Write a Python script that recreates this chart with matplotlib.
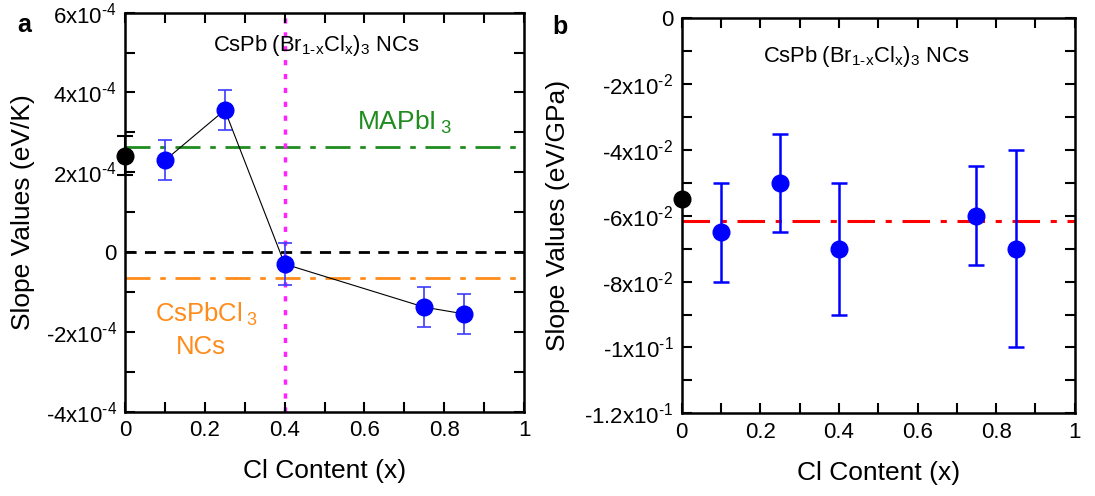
"""
Slope values vs Cl content for CsPb(Br1-xClx)3 NCs: temperature (a) and pressure (b).
"""

import numpy as np
import matplotlib.pyplot as plt
from matplotlib.ticker import MultipleLocator, FixedLocator

plt.rcParams['font.family'] = ['Liberation Sans', 'DejaVu Sans']
plt.rcParams['mathtext.fontset'] = 'custom'
plt.rcParams['mathtext.rm'] = 'Liberation Sans'
plt.rcParams['mathtext.it'] = 'Liberation Sans'

# panel a: temperature slopes (eV/K)
x_a = [0.1, 0.25, 0.4, 0.75, 0.85]
y_a = [2.3e-4, 3.56e-4, -0.3e-4, -1.38e-4, -1.55e-4]
err_a = [0.5e-4, 0.5e-4, 0.52e-4, 0.5e-4, 0.5e-4]
x0_a, y0_a, err0_a = 0.0, 2.42e-4, 0.48e-4
mapbi3_a = 2.64e-4
cspbcl3_a = -0.65e-4
x_cross = 0.4

# panel b: pressure slopes (eV/GPa)
x_b = [0.1, 0.25, 0.4, 0.75, 0.85]
y_b = [-0.065, -0.05, -0.07, -0.06, -0.07]
err_lo_b = [0.015, 0.015, 0.02, 0.015, 0.03]
err_hi_b = [0.015, 0.015, 0.02, 0.015, 0.03]
x0_b, y0_b = 0.0, -0.055
ref_b = -0.0615

yticks_a = [6e-4, 4e-4, 2e-4, 0, -2e-4, -4e-4]
yticklabels_a = [r'6x10$^{\text{-}4}$', r'4x10$^{\text{-}4}$', r'2x10$^{\text{-}4}$', '0',
                 r'-2x10$^{\text{-}4}$', r'-4x10$^{\text{-}4}$']
yticks_b = [0, -0.02, -0.04, -0.06, -0.08, -0.1, -0.12]
yticklabels_b = ['0', r'-2x10$^{\text{-}2}$', r'-4x10$^{\text{-}2}$', r'-6x10$^{\text{-}2}$',
                 r'-8x10$^{\text{-}2}$', r'-1x10$^{\text{-}1}$', r'-1.2x10$^{\text{-}1}$']
xticks = [0, 0.2, 0.4, 0.6, 0.8, 1]
xticklabels = ['0', '0.2', '0.4', '0.6', '0.8', '1']

title = r'CsPb$\;$(Br$_{1\text{-}x}$Cl$_x$)$_3$ NCs'


def style_axes(ax, minor_y):
    ax.set_xlim(0, 1)
    ax.xaxis.set_major_locator(FixedLocator(xticks))
    ax.set_xticklabels(xticklabels)
    ax.xaxis.set_minor_locator(MultipleLocator(0.1))
    ax.yaxis.set_minor_locator(MultipleLocator(minor_y))
    ax.tick_params(which='both', direction='in', top=True, right=True,
                   width=1.5, labelsize=16, pad=6)
    ax.tick_params(which='major', length=7)
    ax.tick_params(which='minor', length=7)
    for s in ax.spines.values():
        s.set_linewidth(1.8)
    ax.set_xlabel('Cl Content (x)', fontsize=19, labelpad=13)


fig = plt.figure(figsize=(10.95, 4.96), dpi=100)
ax1 = fig.add_axes([0.1142, 0.170, 0.3644, 0.8044])
ax2 = fig.add_axes([0.6226, 0.1667, 0.3589, 0.7964])

# ---- panel a ----
ax1.axhline(0, color='black', lw=2, dashes=(4, 3), zorder=1)
ax1.axhline(mapbi3_a, color='#1e8c1e', lw=2, dashes=(9, 3.5, 2, 3.5), zorder=1)
ax1.axhline(cspbcl3_a, color='#ff8c1a', lw=2, dashes=(9, 3.5, 2, 3.5), zorder=1)
ax1.axvline(x_cross, color='#ff22ff', lw=2.5, dashes=(1.5, 2.5), zorder=1)
ax1.plot(x_a, y_a, color='black', lw=0.8, zorder=2)
ax1.errorbar(x_a, y_a, yerr=err_a, fmt='o', color='#0000ff', ecolor='#3b3bff',
             ms=12, elinewidth=1.2, capsize=5, capthick=1.2, zorder=3)
ax1.errorbar([x0_a], [y0_a], yerr=[err0_a], fmt='o', color='black', ms=12,
             elinewidth=1.5, capsize=6, capthick=1.5, clip_on=False, zorder=4)
ax1.set_ylim(-4e-4, 6e-4)
ax1.yaxis.set_major_locator(FixedLocator(yticks_a))
ax1.set_yticklabels(yticklabels_a)
style_axes(ax1, 1e-4)
ax1.set_ylabel('Slope Values (eV/K)', fontsize=19)
ax1.yaxis.set_label_coords(-0.226, 0.5)
ax1.text(0.48, 0.917, title, transform=ax1.transAxes, ha='center', va='center',
         fontsize=15.8)
ax1.text(0.70, 0.724, r'MAPbI$_{\;3}$', transform=ax1.transAxes, ha='center',
         va='center', fontsize=19, color='#1e8c1e')
ax1.text(0.205, 0.245, r'CsPbCl$_{\;3}$', transform=ax1.transAxes, ha='center',
         va='center', fontsize=18.5, color='#ff8c1a')
ax1.text(0.19, 0.162, 'NCs', transform=ax1.transAxes, ha='center',
         va='center', fontsize=18.5, color='#ff8c1a')

# ---- panel b ----
ax2.axhline(ref_b, color='#ff0000', lw=2.2, dashes=(9, 3.5, 2, 3.5), zorder=1)
ax2.errorbar(x_b, y_b, yerr=[err_lo_b, err_hi_b], fmt='o', color='#0000ff',
             ms=12, elinewidth=1.8, capsize=6, capthick=1.8, zorder=3)
ax2.plot([x0_b], [y0_b], 'o', color='black', ms=12, clip_on=False, zorder=4)
ax2.set_ylim(-0.12, 0)
ax2.yaxis.set_major_locator(FixedLocator(yticks_b))
ax2.set_yticklabels(yticklabels_b)
style_axes(ax2, 0.01)
ax2.set_ylabel('Slope Values (eV/GPa)', fontsize=19)
ax2.yaxis.set_label_coords(-0.284, 0.5)
ax2.text(0.47, 0.903, title, transform=ax2.transAxes, ha='center', va='center',
         fontsize=15.8)

fig.text(24 / 1095, 1 - 25 / 496, 'a', fontsize=18, fontweight='bold',
         ha='center', va='center')
fig.text(560 / 1095, 1 - 27 / 496, 'b', fontsize=18, fontweight='bold',
         ha='center', va='center')

fig.savefig('out.png', dpi=100)
